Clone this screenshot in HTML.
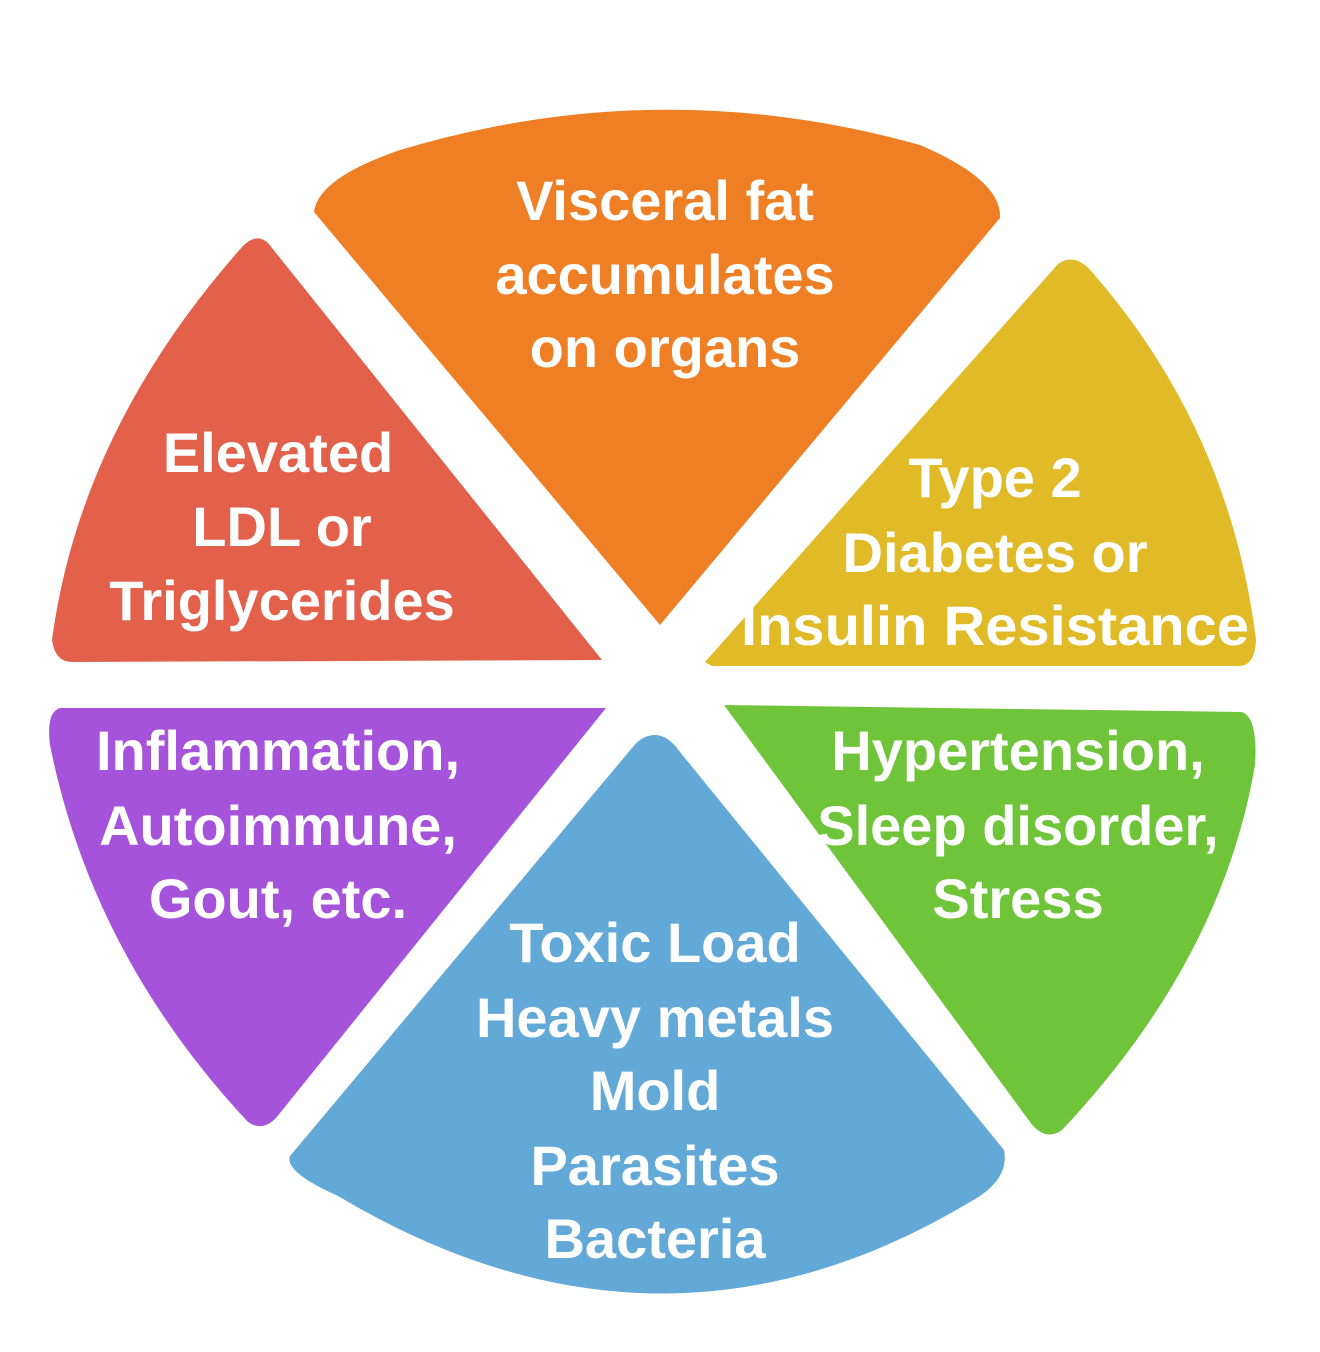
<!DOCTYPE html>
<html><head><meta charset="utf-8"><style>
html,body{margin:0;padding:0;background:#fff;}
svg{display:block;}
text{font-family:"Liberation Sans",sans-serif;font-weight:bold;font-size:56px;fill:#fff;text-anchor:middle;}
</style></head><body>
<svg width="1320" height="1352" viewBox="0 0 1320 1352">
<path d="M 660 625 L 314 212 Q 318 178 400 150 Q 660 72 920 145 Q 1002 180 1000 218 Z" fill="#ef7f24"/>
<path d="M 705 662 L 1058 264 Q 1075 252 1092 272 Q 1230 430 1256 640 Q 1255 665 1240 666 L 712 666 Z" fill="#e0bb27"/>
<path d="M 602 660 L 268 243 Q 256 232 242 247 Q 80 430 52 640 Q 55 662 72 662 Z" fill="#e3604a"/>
<path d="M 606 708 L 60 708 Q 46 712 50 745 Q 92 955 248 1122 Q 262 1132 276 1118 Z" fill="#a553db"/>
<path d="M 724 705 L 1242 712 Q 1258 718 1255 765 Q 1222 960 1062 1130 Q 1045 1142 1030 1122 Z" fill="#6fc43a"/>
<path d="M 655 735 Q 668 735 680 752 L 1004 1150 Q 1010 1180 970 1202 Q 660 1388 338 1196 Q 284 1172 290 1156 L 632 748 Q 642 735 655 735 Z" fill="#63a9d7"/>
<text x="665" y="220">Visceral fat</text>
<text x="665" y="294">accumulates</text>
<text x="665" y="367">on organs</text>
<text x="278" y="472">Elevated</text>
<text x="282" y="546">LDL or</text>
<text x="282" y="620">Triglycerides</text>
<text x="995" y="497">Type 2</text>
<text x="995" y="572">Diabetes or</text>
<text x="995" y="645" textLength="508" lengthAdjust="spacingAndGlyphs">Insulin Resistance</text>
<text x="278" y="770">Inflammation,</text>
<text x="278" y="845">Autoimmune,</text>
<text x="278" y="918">Gout, etc.</text>
<text x="1018" y="770">Hypertension,</text>
<text x="1018" y="845">Sleep disorder,</text>
<text x="1018" y="918">Stress</text>
<text x="655" y="962">Toxic Load</text>
<text x="655" y="1037">Heavy metals</text>
<text x="655" y="1110">Mold</text>
<text x="655" y="1185">Parasites</text>
<text x="655" y="1258">Bacteria</text>
</svg>
</body></html>
